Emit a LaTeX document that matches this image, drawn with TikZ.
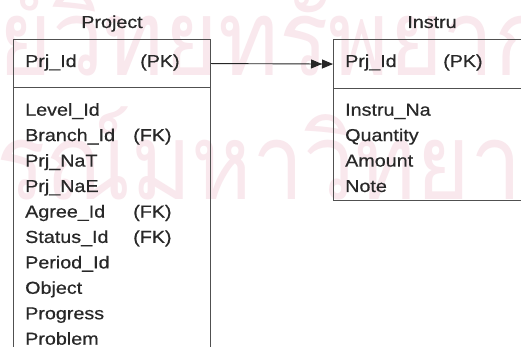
\documentclass[tikz,border=0pt]{standalone}
\usepackage{fontspec}
\usetikzlibrary{arrows.meta}
\newfontfamily\erfont{Liberation Sans}[FakeStretch=1.14,FakeBold=0.6]
\newfontfamily\thaifont[Script=Thai]{Loma}
\definecolor{wmpink}{RGB}{249,232,237}
\definecolor{txtgray}{RGB}{40,40,40}
\definecolor{linegray}{RGB}{80,80,80}
\tikzset{
  erbox/.style={draw=linegray, line width=1.1pt, anchor=north west, inner sep=0pt, minimum width=197pt},
  ertext/.style={anchor=base west, inner sep=0pt, text=txtgray, font=\erfont\fontsize{17.3}{20}\selectfont},
  ertitle/.style={anchor=base, inner sep=0pt, text=txtgray, font=\erfont\fontsize{17.3}{20}\selectfont},
  wmark/.style={anchor=base west, inner sep=0pt, text=wmpink, font=\thaifont\fontsize{92}{100}\selectfont, yscale=1.15},
  relline/.style={draw=black!85, line width=0.9pt, -{Triangle[length=11pt,width=9pt]Triangle[length=11pt,width=9pt]}}
}
\begin{document}
\begin{tikzpicture}[x=1pt, y=-1pt]
\useasboundingbox (0,0) rectangle (521,347);
\clip (0,0) rectangle (521,347);
\fill[white] (0,0) rectangle (521,347);
% watermark
\node[wmark] (wm1) at (-2,76) {\llap{ศูน}ย์วิทยทรัพยากร};
\node[wmark] (wm2) at (-4,200) {\llap{จุฬาลงก}รณ์มหาวิทยาลัย};
% titles
\node[ertitle] (tproj) at (112,28) {Project};
\node[ertitle] (tinst) at (432,28) {Instru};
% Project entity
\node[erbox, minimum height=48pt] (projhead) at (13,39) {};
\node[erbox, minimum height=280pt] (projbody) at (13,87) {};
% Instru entity
\node[erbox, minimum height=49pt] (insthead) at (333,39) {};
\node[erbox, minimum height=112pt] (instbody) at (333,88) {};
% relationship
\draw[relline] (projhead.east) -- (insthead.west);
% Project texts
\node[ertext] (p1) at (25,67) {Prj\_Id};
\node[ertext] (p1k) at (140,67) {(PK)};
\node[ertext] (a1) at (25,115.7) {Level\_Id};
\node[ertext] (a2) at (25,141.1) {Branch\_Id};
\node[ertext] (a2k) at (133,141.1) {(FK)};
\node[ertext] (a3) at (25,166.6) {Prj\_NaT};
\node[ertext] (a4) at (25,192.0) {Prj\_NaE};
\node[ertext] (a5) at (25,217.5) {Agree\_Id};
\node[ertext] (a5k) at (133,217.5) {(FK)};
\node[ertext] (a6) at (25,242.9) {Status\_Id};
\node[ertext] (a6k) at (133,242.9) {(FK)};
\node[ertext] (a7) at (25,268.4) {Period\_Id};
\node[ertext] (a8) at (25,293.8) {Object};
\node[ertext] (a9) at (25,319.3) {Progress};
\node[ertext] (a10) at (25,344.7) {Problem};
% Instru texts
\node[ertext] (i1) at (345,67) {Prj\_Id};
\node[ertext] (i1k) at (443,67) {(PK)};
\node[ertext] (b1) at (345,115.7) {Instru\_Na};
\node[ertext] (b2) at (345,141.1) {Quantity};
\node[ertext] (b3) at (345,166.6) {Amount};
\node[ertext] (b4) at (345,192.0) {Note};
\end{tikzpicture}
\end{document}
